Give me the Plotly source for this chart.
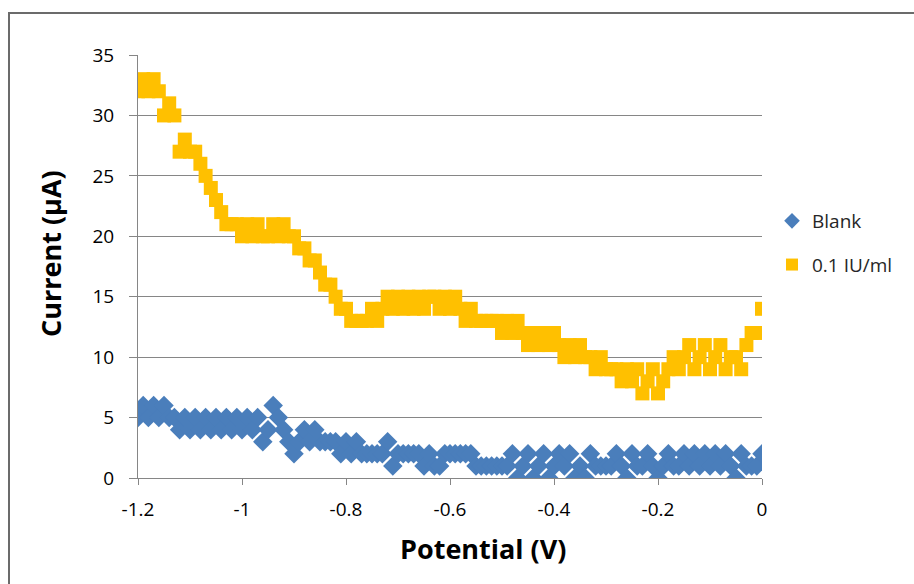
import plotly.graph_objects as go

potential = [round(-1.20 + 0.01 * i, 2) for i in range(121)]

blank = [
    5, 6, 5, 6, 5, 6, 5, 5, 4, 5,      # -1.20 .. -1.11
    4, 5, 4, 5, 4, 5, 4, 5, 4, 5,      # -1.10 .. -1.01
    4, 5, 4, 5, 3, 4, 6, 5, 4, 3,      # -1.00 .. -0.91
    2, 3, 4, 3, 4, 3, 3, 3, 3, 2,      # -0.90 .. -0.81
    3, 2, 3, 2, 2, 2, 2, 2, 3, 1,      # -0.80 .. -0.71
    2, 2, 2, 2, 2, 1, 2, 1, 1, 2,      # -0.70 .. -0.61
    2, 2, 2, 2, 2, 1, 1, 1, 1, 1,      # -0.60 .. -0.51
    1, 1, 2, 0, 1, 2, 0, 1, 2, 0,      # -0.50 .. -0.41
    1, 2, 1, 2, 0, 1, 0, 2, 1, 1,      # -0.40 .. -0.31
    1, 1, 2, 1, 0, 2, 1, 1, 2, 1,      # -0.30 .. -0.21
    0, 1, 2, 1, 1, 2, 1, 2, 1, 2,      # -0.20 .. -0.11
    1, 2, 1, 2, 1, 0, 2, 1, 1, 1,      # -0.10 .. -0.01
    2,                                 # 0.00
]

iu01 = [
    32, 33, 32, 33, 32, 30, 31, 30, 27, 28,   # -1.20 .. -1.11
    27, 27, 26, 25, 24, 23, 22, 21, 21, 21,   # -1.10 .. -1.01
    20, 21, 20, 21, 20, 20, 21, 20, 21, 20,   # -1.00 .. -0.91
    20, 19, 19, 18, 18, 17, 16, 16, 15, 14,   # -0.90 .. -0.81
    14, 13, 13, 13, 13, 14, 13, 14, 15, 14,   # -0.80 .. -0.71
    15, 14, 15, 14, 15, 14, 15, 15, 14, 15,   # -0.70 .. -0.61
    14, 15, 14, 13, 14, 13, 13, 13, 13, 13,   # -0.60 .. -0.51
    12, 13, 12, 13, 12, 11, 12, 11, 12, 11,   # -0.50 .. -0.41
    12, 11, 10, 11, 10, 11, 10, 10, 9, 10,    # -0.40 .. -0.31
    9, 9, 9, 8, 9, 8, 9, 7, 8, 9,             # -0.30 .. -0.21
    7, 8, 9, 10, 9, 10, 11, 9, 10, 11,        # -0.20 .. -0.11
    9, 10, 11, 9, 10, 10, 9, 11, 12, 12,      # -0.10 .. -0.01
    14,                                       # 0.00
]

x_ticks = [-1.2, -1.0, -0.8, -0.6, -0.4, -0.2, 0.0]
x_tick_text = ["-1.2", "-1", "-0.8", "-0.6", "-0.4", "-0.2", "0"]
y_ticks = [0, 5, 10, 15, 20, 25, 30, 35]

FONT = "'Open Sans', Lato, sans-serif"

fig = go.Figure()
fig.add_trace(go.Scatter(
    x=potential, y=blank, mode="markers", name="Blank", legendgroup="a",
    marker=dict(symbol="diamond", size=15, color="#4A7EBB"),
))
fig.add_trace(go.Scatter(
    x=potential, y=iu01, mode="markers", name="0.1 IU/ml", legendgroup="b",
    marker=dict(symbol="square", size=14, color="#FFC000"),
))

L, R, T, B = 138, 762, 55, 478
W, H = 914, 584

def px2paper_x(px):
    return (px - L) / (R - L)

def px2paper_y(py):
    return (B - py) / (B - T)

fig.update_layout(
    width=W, height=H,
    margin=dict(l=L, r=W - R, t=T, b=H - B, pad=0),
    paper_bgcolor="white", plot_bgcolor="white",
    font=dict(family=FONT, size=19, color="#000000"),
    showlegend=True,
    legend=dict(
        x=px2paper_x(772), y=px2paper_y(202), xanchor="left", yanchor="top",
        font=dict(family=FONT, size=19, color="#262626"),
        itemsizing="constant", tracegroupgap=16, traceorder="grouped",
        itemwidth=30, bgcolor="rgba(0,0,0,0)",
    ),
    xaxis=dict(
        range=[-1.2, 0], tickvals=x_ticks, ticktext=x_tick_text,
        showgrid=False, zeroline=False,
        showline=True, linecolor="#868686", linewidth=1,
        ticks="outside", ticklen=6, tickcolor="#868686",
        ticklabelstandoff=8,
        tickfont=dict(family=FONT, size=19, color="#000000"),
    ),
    yaxis=dict(
        range=[0, 35], tickvals=y_ticks,
        showgrid=True, gridcolor="#868686", gridwidth=1,
        zeroline=False,
        showline=True, linecolor="#868686", linewidth=1,
        ticks="outside", ticklen=8, tickcolor="#868686",
        ticklabelstandoff=11,
        tickfont=dict(family=FONT, size=19, color="#000000"),
    ),
    annotations=[
        dict(text="<b>Potential (V)</b>", xref="paper", yref="paper",
             x=px2paper_x(483), y=px2paper_y(548), xanchor="center", yanchor="middle",
             showarrow=False, font=dict(family=FONT, size=27, color="#000000")),
        dict(text="<b>Current (µA)</b>", xref="paper", yref="paper",
             x=px2paper_x(50), y=px2paper_y(254), xanchor="center", yanchor="middle",
             textangle=-90, showarrow=False,
             font=dict(family=FONT, size=27, color="#000000")),
    ],
    shapes=[dict(
        type="rect", xref="paper", yref="paper",
        x0=px2paper_x(9), x1=px2paper_x(930),
        y0=px2paper_y(600), y1=px2paper_y(13),
        line=dict(color="#6b6b6b", width=2), fillcolor="rgba(0,0,0,0)",
        layer="below",
    )],
)

fig.write_html("out.html")
